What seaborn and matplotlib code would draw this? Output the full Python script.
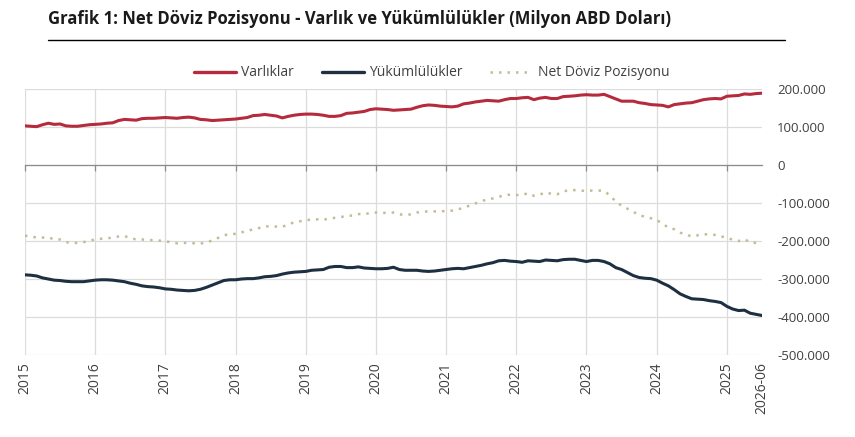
import numpy as np
import pandas as pd
import matplotlib
matplotlib.use("Agg")
import matplotlib.pyplot as plt
import seaborn as sns
from matplotlib.ticker import FuncFormatter
from matplotlib.lines import Line2D

# monthly data, 2015-01 .. 2025-07 (milyon ABD dolari, bin olarak okunmus)
varliklar = [
    103, 102, 101, 106, 110, 107, 108, 103, 102, 102, 104, 106,
    107, 108, 110, 111, 117, 120, 119, 118, 122, 123, 123, 124,
    125, 124, 123, 125, 126, 124, 120, 119, 117, 118, 119, 120,
    121, 123, 125, 130, 131, 133, 131, 129, 124, 128, 131, 133,
    134, 134, 133, 131, 128, 128, 130, 136, 137, 139, 141, 146,
    148, 147, 146, 144, 145, 146, 147, 152, 156, 158, 157, 155,
    154, 153, 155, 161, 163, 166, 168, 170, 169, 168, 172, 175,
    175, 177, 178, 172, 176, 178, 175, 175, 180, 181, 182, 184,
    185, 184, 184, 186, 180, 174, 168, 168, 168, 164, 162, 159,
    158, 157, 153, 159, 161, 163, 164, 168, 172, 174, 175, 174,
    181, 182, 183, 187, 186, 188, 189,
]
yukumlulukler = [
    -289, -290, -292, -297, -300, -303, -304, -306, -307, -307, -307, -305,
    -303, -302, -302, -303, -305, -307, -311, -314, -318, -320, -321, -323,
    -326, -327, -329, -330, -331, -330, -327, -322, -316, -310, -304, -302,
    -302, -300, -299, -299, -297, -294, -293, -291, -287, -284, -282, -281,
    -280, -277, -276, -275, -269, -267, -267, -270, -270, -268, -271, -272,
    -273, -273, -272, -269, -275, -277, -277, -277, -279, -280, -279, -277,
    -275, -273, -272, -273, -270, -267, -264, -260, -257, -252, -251, -253,
    -254, -256, -252, -253, -254, -250, -251, -252, -249, -248, -248, -251,
    -254, -251, -251, -254, -260, -270, -275, -283, -291, -296, -298, -299,
    -303, -311, -318, -328, -339, -346, -352, -353, -354, -357, -359, -362,
    -372, -379, -383, -382, -390, -393, -396,
]
yil_etiketleri = ["2015", "2016", "2017", "2018", "2019", "2020",
                  "2021", "2022", "2023", "2024", "2025", "2026-06"]

df = pd.DataFrame({
    "ay": np.arange(len(varliklar)),
    "Varlıklar": np.array(varliklar) * 1000,
    "Yükümlülükler": np.array(yukumlulukler) * 1000,
})
df["Net Döviz Pozisyonu"] = df["Varlıklar"] + df["Yükümlülükler"]

sns.set_style("white")
plt.rcParams["font.family"] = ["Open Sans", "DejaVu Sans"]

kirmizi = "#b52a3c"
lacivert = "#1e2f42"
haki = "#c4bc94"

fig = plt.figure(figsize=(8.55, 4.37), dpi=100)
ax = fig.add_axes([0.0292, 0.1876, 0.862, 0.6087])

sns.lineplot(data=df, x="ay", y="Net Döviz Pozisyonu", ax=ax, color=haki,
             linewidth=1.8, linestyle=(0, (1, 2.4)))
sns.lineplot(data=df, x="ay", y="Varlıklar", ax=ax, color=kirmizi, linewidth=2.2)
sns.lineplot(data=df, x="ay", y="Yükümlülükler", ax=ax, color=lacivert, linewidth=2.2)

son = len(varliklar) - 1
xt = list(range(0, 121, 12)) + [son]
ax.set_xlim(0, son)
ax.set_ylim(-500000, 200000)
ax.set_xticks(xt)
ax.set_xticklabels(yil_etiketleri, rotation=90, fontsize=10, color="#404040")
ax.set_yticks(np.arange(-500000, 200001, 100000))
ax.yaxis.set_major_formatter(FuncFormatter(lambda v, p: f"{v:,.0f}".replace(",", ".")))
ax.yaxis.tick_right()
ax.tick_params(axis="y", length=0, pad=11, labelsize=9.5, labelcolor="#404040")
ax.tick_params(axis="x", length=0, pad=5)
ax.set_xlabel("")
ax.set_ylabel("")

# gridlines
ax.grid(True, color="#dcdcdc", linewidth=0.9)
for k in ax.get_xgridlines()[-1:]:
    k.set_visible(False)
for s in ax.spines.values():
    s.set_visible(False)

# zero axis with small ticks
ax0 = ax.twiny()
ax0.set_xlim(ax.get_xlim())
ax0.spines["bottom"].set_position(("data", 0))
ax0.xaxis.set_ticks_position("bottom")
ax0.set_xticks(xt[:-1])
ax0.set_xticklabels([])
ax0.tick_params(axis="x", direction="out", length=4, color="#8c8c8c", width=0.9)
for n, s in ax0.spines.items():
    s.set_visible(n == "bottom")
ax0.spines["bottom"].set_color("#8c8c8c")
ax0.spines["bottom"].set_linewidth(0.9)

# legend
handles = [
    Line2D([0], [0], color=kirmizi, linewidth=2.4),
    Line2D([0], [0], color=lacivert, linewidth=2.4),
    Line2D([0], [0], color=haki, linewidth=1.8, linestyle=(0, (1, 2.4))),
]
fig.legend(handles, ["Varlıklar", "Yükümlülükler", "Net Döviz Pozisyonu"],
           loc="center", bbox_to_anchor=(0.505, 0.833), ncol=3, frameon=False,
           fontsize=10, handlelength=3.0, handletextpad=0.4, columnspacing=2.0,
           labelcolor="#404040")

# title with rule
fig.text(0.056, 0.956, "Grafik 1: Net Döviz Pozisyonu - Varlık ve Yükümlülükler (Milyon ABD Doları)",
         fontsize=12, fontweight="bold", color="#1a1a1a", va="center", ha="left")
fig.add_artist(Line2D([0.056, 0.918], [0.9085, 0.9085], color="black", linewidth=1.0,
                      transform=fig.transFigure))

fig.savefig("out.png", dpi=100)
